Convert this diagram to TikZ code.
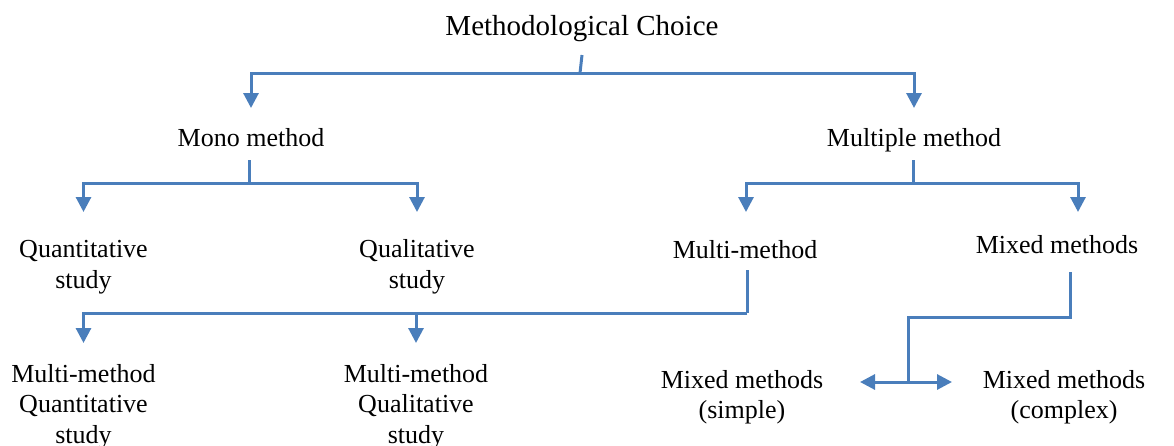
\documentclass[tikz,border=0pt]{standalone}
\usepackage{fontspec}
\setmainfont{Liberation Serif}
\usetikzlibrary{arrows.meta,calc}
\definecolor{linkblue}{RGB}{74,126,187}
\begin{document}
\begin{tikzpicture}[x=1pt,y=-1pt,
  lbl/.style={anchor=base,align=center,inner sep=0pt,font=\fontsize{26}{30.5}\selectfont},
  headlbl/.style={lbl,font=\fontsize{29}{33}\selectfont},
  link/.style={draw=linkblue,line width=3pt},
  arr/.style={link,-{Triangle[width=15pt,length=15pt]}},
  dblarr/.style={link,{Triangle[width=15pt,length=15pt]}-{Triangle[width=15pt,length=15pt]}}]
\useasboundingbox (0,0) rectangle (1174,445);

% labels (multi-line labels are anchored at the baseline of their last line)
\node[headlbl] (mc) at (582,35) {Methodological Choice};
\node[lbl] (mono) at (251,146) {Mono method};
\node[lbl] (mult) at (914,146) {Multiple method};
\node[lbl] (quan) at (83.5,288) {Quantitative\\study};
\node[lbl] (qual) at (417,288) {Qualitative\\study};
\node[lbl] (mm) at (745,258) {Multi-method};
\node[lbl] (mx) at (1057,253) {Mixed methods};
\node[lbl] (mmqn) at (83.5,443) {Multi-method\\Quantitative\\study};
\node[lbl] (mmql) at (416,443) {Multi-method\\Qualitative\\study};
\node[lbl] (mxs) at (742,418.5) {Mixed methods\\(simple)};
\node[lbl] (mxc) at (1064,418.5) {Mixed methods\\(complex)};

% methodological choice -> mono / multiple
\draw[link] ($(mc.base)+(0,20)$) -- ++(-2,18) coordinate (j0);
\draw[arr] (j0) -| ($(mono.base)+(0,-38)$);
\draw[arr] (j0) -| ($(mult.base)+(0,-38)$);

% mono method -> quantitative / qualitative
\draw[link] ($(mono.base)+(-2,14)$) -- ++(0,23) coordinate (j1);
\draw[arr] (j1) -| ($(quan.base)+(0,-76)$);
\draw[arr] (j1) -| ($(qual.base)+(0,-76)$);

% multiple method -> multi-method / mixed methods
\draw[link] ($(mult.base)+(-1,14)$) -- ++(0,23) coordinate (j2);
\draw[arr] (j2) -| ($(mm.base)+(1,-46)$);
\draw[arr] (j2) -| ($(mx.base)+(21,-41)$);

% multi-method -> two multi-method studies
\draw[link] ($(mm.base)+(2,12)$) -- ++(0,43) coordinate (j3);
\draw[arr] (j3) -| ($(mmqn.base)+(0,-100)$);
\draw[arr] (j3) -| ($(mmql.base)+(0,-100)$);

% mixed methods -> simple / complex
\draw[link] ($(mx.base)+(13,19)$) -- ++(0,45) -- ++(-162,0) -- ++(0,65) coordinate (j4);
\draw[arr] (j4) -- ($(mxs.base)+(118,-36.5)$);
\draw[arr] (j4) -- ($(mxc.base)+(-112,-36.5)$);
\end{tikzpicture}
\end{document}
